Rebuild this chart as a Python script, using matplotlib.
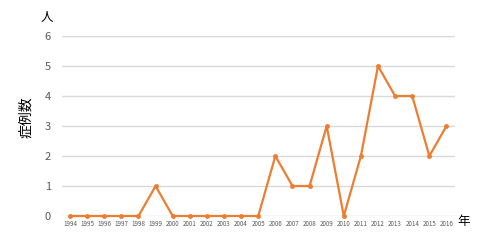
import matplotlib
matplotlib.use("Agg")
import matplotlib.pyplot as plt

plt.rcParams['font.family'] = ['Noto Sans CJK JP', 'DejaVu Sans']

years = [str(y) for y in range(1994, 2017)]
cases = [0, 0, 0, 0, 0, 1, 0, 0, 0, 0, 0, 0, 2, 1, 1, 3, 0, 2, 5, 4, 4, 2, 3]


def main():
    fig = plt.figure(figsize=(5, 2.4), dpi=100)
    ax = fig.add_axes([0.124, 0.1, 0.786, 0.75])

    x = list(range(len(years)))
    ax.plot(x, cases, color="#ED7D31", linewidth=1.6, marker="o",
            markersize=2.5, clip_on=False, zorder=3)

    ax.set_xlim(-0.47, len(years) - 0.5)
    ax.set_ylim(0, 6)
    ax.set_yticks(range(0, 7))
    ax.set_xticks(x)
    ax.set_xticklabels(years, fontsize=4.5, color="#595959")
    ax.tick_params(axis="y", labelsize=8, colors="#595959", length=0, pad=8)
    ax.tick_params(axis="x", length=0, pad=3)

    ax.grid(axis="y", color="#D9D9D9", linewidth=1)
    ax.set_axisbelow(True)
    for s in ax.spines.values():
        s.set_visible(False)

    fig.text(0.052, 0.51, "症例数", rotation=90, fontsize=10, ha="center", va="center")
    fig.text(0.094, 0.925, "人", fontsize=9, ha="center", va="center")
    fig.text(0.928, 0.075, "年", fontsize=9, ha="center", va="center")

    fig.savefig("out.png", dpi=100)


if __name__ == "__main__":
    main()
